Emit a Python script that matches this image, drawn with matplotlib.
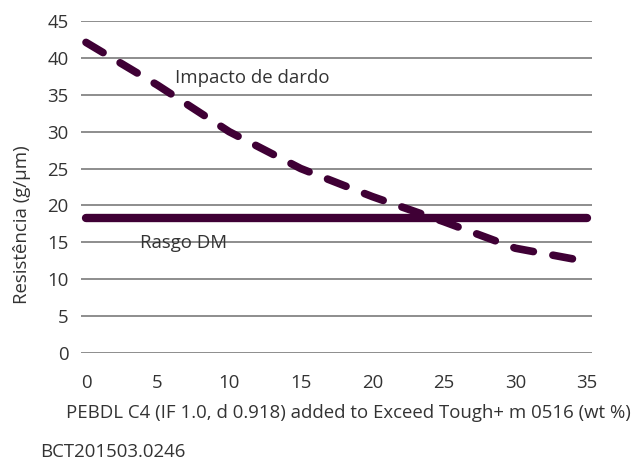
import matplotlib
matplotlib.use("Agg")
import matplotlib.pyplot as plt

x_vals = [0, 5, 10, 15, 20, 25, 30, 35]
dart_impact = [42.1, 36.3, 30.0, 25.0, 21.2, 17.8, 14.2, 12.4]
tear_md = [18.3, 18.3, 18.3, 18.3, 18.3, 18.3, 18.3, 18.3]
x_ticks = [0, 5, 10, 15, 20, 25, 30, 35]
y_ticks = [0, 5, 10, 15, 20, 25, 30, 35, 40, 45]

plt.rcParams['font.family'] = ['Open Sans', 'DejaVu Sans']
color = '#3f0035'
txt = '#333333'
fs = 13.4

fig = plt.figure(figsize=(6.4, 4.63), dpi=100)
ax = fig.add_axes([81/640, 1-353/463, (592-81)/640, (353-21)/463])

for yv in y_ticks:
    ax.axhline(yv, color='#7a7a7a', lw=1.2, zorder=1)

ax.plot(x_vals, tear_md, color=color, lw=6, solid_capstyle='round', zorder=3)
ax.plot(x_vals, dart_impact, color=color, lw=5.5, linestyle=(0, (2.6, 2.6)),
        dash_capstyle='round', zorder=4)

ax.set_xlim(-0.35, 35.35)
ax.set_ylim(0, 45)
ax.set_xticks(x_ticks)
ax.set_yticks(y_ticks)
ax.tick_params(axis='both', length=0, labelsize=fs, colors=txt)
ax.tick_params(axis='x', pad=15)
ax.tick_params(axis='y', pad=9)
for s in ax.spines.values():
    s.set_visible(False)

ax.text(6.2, 37.3, 'Impacto de dardo', fontsize=fs, color=txt, va='center', ha='left')
ax.text(3.8, 14.9, 'Rasgo DM', fontsize=fs, color=txt, va='center', ha='left', zorder=5)

fig.text(348/640, 1-413/463, 'PEBDL C4 (IF 1.0, d 0.918) added to Exceed Tough+ m 0516 (wt %)',
         fontsize=fs, color=txt, ha='center', va='center')
fig.text(22/640, 1-225/463, 'Resistência (g/µm)', fontsize=fs, color=txt,
         rotation=90, ha='center', va='center')
fig.text(40/640, 1-452/463, 'BCT201503.0246', fontsize=fs, color=txt, ha='left', va='center')

fig.savefig('out.png', dpi=100)
